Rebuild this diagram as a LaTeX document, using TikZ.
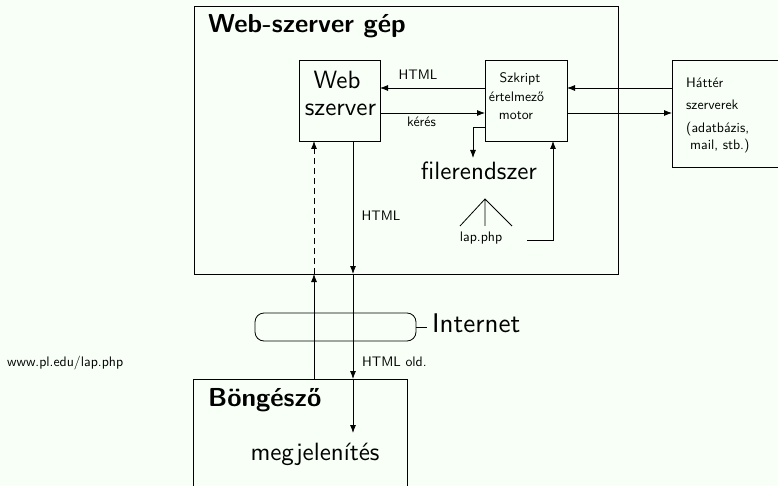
\documentclass[tikz,border=0pt]{standalone}
\usepackage{fontspec}
\setsansfont{lmsans10-regular.otf}[BoldFont=lmsans10-bold.otf]
\usetikzlibrary{arrows.meta,calc}
\definecolor{bgc}{RGB}{247,255,247}
\begin{document}
\begin{tikzpicture}[x=1pt,y=-1pt,font=\sffamily,
  box/.style={draw,line width=0.8pt,inner sep=0pt,outer sep=0pt,anchor=north west},
  arr/.style={line width=0.8pt,-{Latex[length=8pt,width=6pt]}},
  ln/.style={line width=0.8pt},
  big/.style={font=\sffamily\fontsize{25}{30}\selectfont,inner sep=0pt},
  bigb/.style={font=\sffamily\bfseries\fontsize{26}{30}\selectfont,inner sep=0pt},
  lab/.style={font=\sffamily\fontsize{13.8}{16}\selectfont,inner sep=0pt},
  sml/.style={font=\sffamily\fontsize{13.8}{16}\selectfont,inner sep=0pt}]
\fill[bgc] (0,0) rectangle (778,486);
\useasboundingbox (0,0) rectangle (778,486);
% boxes
\node[box,minimum width=424pt,minimum height=268pt] (gep) at (194,6) {};
\node[box,minimum width=81pt,minimum height=81pt] (web) at (299,60) {};
\node[box,minimum width=82pt,minimum height=81pt] (szk) at (485,60) {};
\node[box,minimum width=120pt,minimum height=107pt] (hat) at (672,60) {};
\node[box,minimum width=214pt,minimum height=130pt] (bro) at (193,379) {};
\node[draw,line width=0.8pt,rounded corners=9pt,minimum width=161pt,minimum height=28pt,inner sep=0pt,outer sep=0pt,anchor=north west] (inet) at (255,313) {};
% texts
\node[bigb,anchor=base west] (gept) at (208,33) {Web-szerver gép};
\node[big,anchor=base] (webt1) at (337,88.5) {Web};
\node[big,anchor=base] (webt2) at (340.5,115.5) {szerver};
\node[sml,anchor=base] (s1) at (520,82.3) {Szkript};
\node[sml,anchor=base] (s2) at (516.5,101.7) {értelmező};
\node[sml,anchor=base] (s3) at (516,120) {motor};
\node[sml,anchor=base west] (h1) at (686,87.3) {Háttér};
\node[sml,anchor=base west] (h2) at (686,109.3) {szerverek};
\node[sml,anchor=base west] (h3) at (686,133) {(adatbázis,};
\node[sml,anchor=base west] (h4) at (690,150) {mail, stb.)};
\node[big,anchor=base] (fs) at (479,179.3) {filerendszer};
\node[sml,anchor=base] (lp) at (481,241.7) {lap.php};
\node[lab,anchor=base] (l1) at (418,80) {HTML};
\node[lab,anchor=base] (l2) at (421.5,126.7) {kérés};
\node[lab,anchor=base] (l3) at (381,220.7) {HTML};
\node[sml,anchor=base west] (l4) at (362,366.7) {HTML old.};
\node[sml,anchor=base west] (url) at (7,366.7) {www.pl.edu/lap.php};
\node[big,anchor=base west,font=\sffamily\fontsize{27}{30}\selectfont] (it) at (432,332.5) {Internet};
\node[bigb,anchor=base west] (brt) at (208,406.7) {Böngésző};
\node[big,anchor=base] (mg) at (315,460) {megjelenítés};
% coordinates
\coordinate (xl) at (314,0);
\coordinate (xr) at (353,0);
\coordinate (xs) at (553,0);
\coordinate (fsin) at (473,158);
\coordinate (lpout) at (527,240);
\coordinate (mgin) at (353,433);
\coordinate (apex) at (485,199);
\coordinate (t1) at (460,226);
\coordinate (t2) at (485,226);
\coordinate (t3) at (512,226);
% connectors
\draw[arr] ([yshift=-28pt]szk.north west) -- ([yshift=-28pt]web.north east);
\draw[arr] ([yshift=-53pt]web.north east) -- ([yshift=-53pt]szk.north west);
\draw[arr] ([yshift=-28pt]hat.north west) -- ([yshift=-28pt]szk.north east);
\draw[arr] ([yshift=-53pt]szk.north east) -- ([yshift=-53pt]hat.north west);
\draw[arr] ([yshift=-67pt]szk.north west) -| (fsin);
\draw[arr] (lpout) -| (szk.south -| xs);
\draw[ln] (t1) -- (apex) -- (t3) (apex) -- (t2);
\draw[arr,dash pattern=on 6pt off 4pt] (gep.south -| xl) -- (web.south -| xl);
\draw[arr] (bro.north -| xl) -- (gep.south -| xl);
\draw[arr] (web.south -| xr) -- (gep.south -| xr);
\draw[arr] (gep.south -| xr) -- (bro.north -| xr);
\draw[arr] (bro.north -| xr) -- (mgin);
\draw[ln] (inet.east) -- ++(11,0);
\end{tikzpicture}
\end{document}
